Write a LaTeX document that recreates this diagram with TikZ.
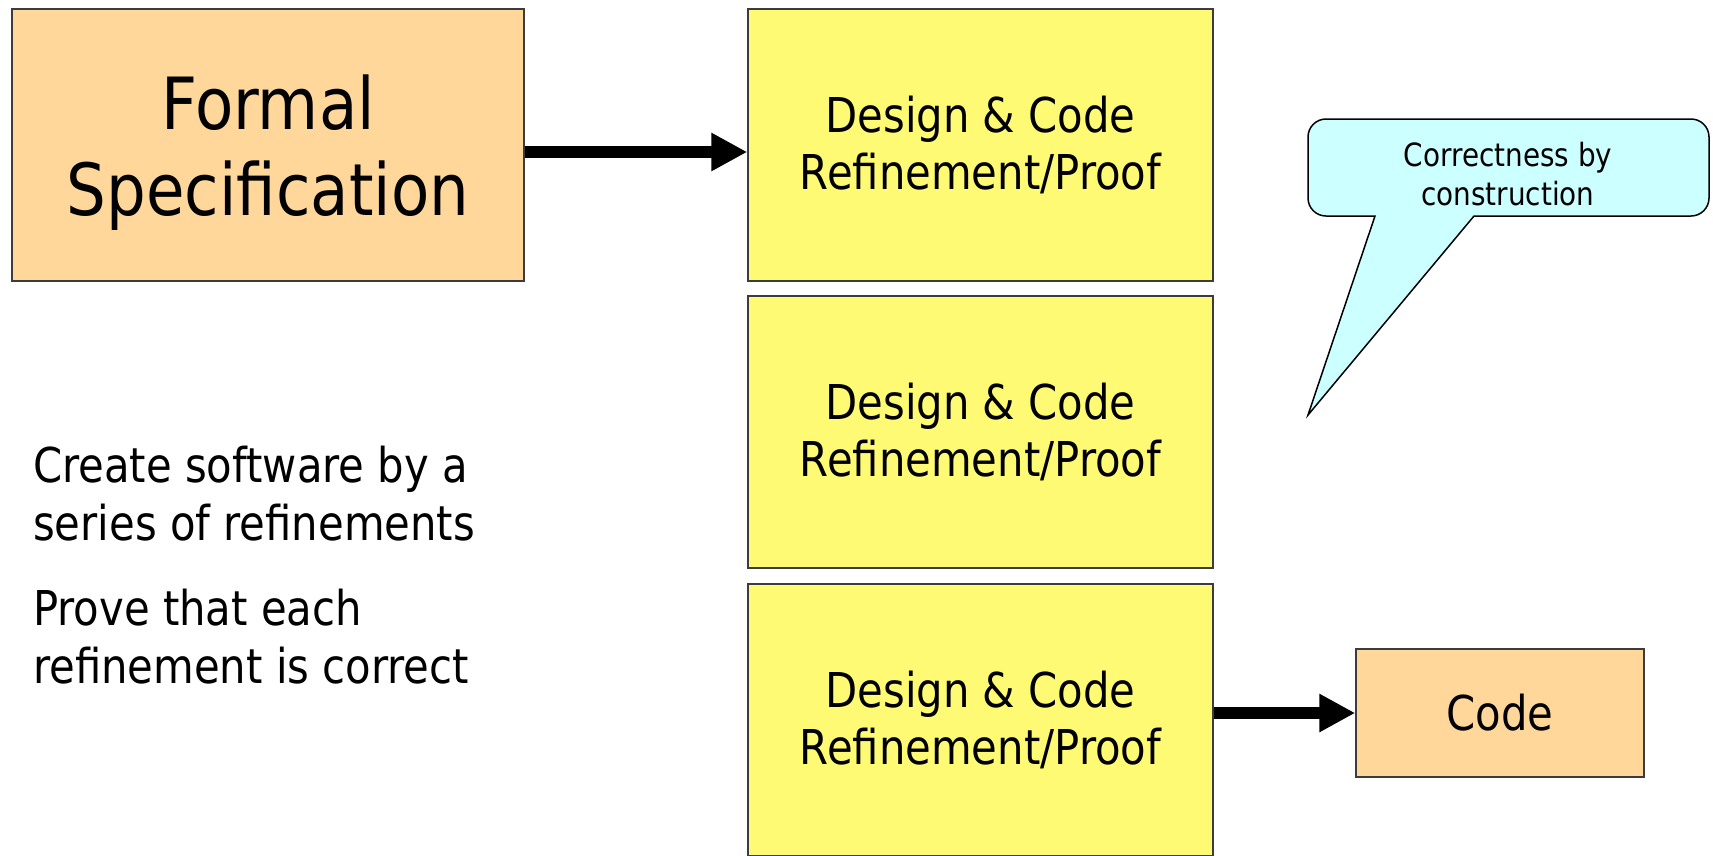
\documentclass[tikz,border=0pt]{standalone}
\usepackage{fontspec}
\setmainfont{DejaVu Sans}[FakeStretch=0.87]
\usetikzlibrary{arrows.meta}

\definecolor{peach}{RGB}{255,215,155}
\definecolor{lemon}{RGB}{255,250,115}
\definecolor{icecyan}{RGB}{204,255,255}
\definecolor{edge}{RGB}{60,60,60}

\tikzset{
  box/.style={draw=edge, line width=1.5pt, align=center, inner sep=0pt},
  specbox/.style={box, fill=peach, minimum width=512pt, minimum height=272pt},
  spectext/.style={align=center, inner sep=0pt,
    font=\fontsize{72pt}{86pt}\selectfont},
  refbox/.style={box, fill=lemon, minimum width=465pt, minimum height=272pt,
    font=\fontsize{48pt}{57.6pt}\selectfont},
  codebox/.style={box, fill=peach, minimum width=288pt, minimum height=128pt,
    font=\fontsize{48pt}{57.6pt}\selectfont},
  bigarrow/.style={line width=12pt, -{Triangle[length=36pt,width=36pt]}},
  bodytext/.style={align=left, inner sep=0pt, anchor=base west,
    font=\fontsize{48pt}{57.6pt}\selectfont},
  bubble/.style={draw=black, line width=1.5pt, fill=icecyan},
}

\begin{document}
\begin{tikzpicture}[x=1pt, y=-1pt]
  \useasboundingbox (0,0) rectangle (1713,855);
  \clip (0,0) rectangle (1713,855);
  \fill[white] (0,0) rectangle (1713,855);

  % Specification and refinement chain
  \node[specbox] (spec) at (268,145) {};
  \node[spectext] (spectxt) at ([yshift=-8pt]spec.center) {Formal\\Specification};
  \node[refbox] (ref1) at (980.5,145) {Design \& Code\\Refinement/Proof};
  \node[refbox] (ref2) at (980.5,432) {Design \& Code\\Refinement/Proof};
  \node[refbox] (ref3) at (980.5,720) {Design \& Code\\Refinement/Proof};
  \node[codebox] (code) at (1500,713) {Code};

  \draw[bigarrow] ([yshift=-7pt]spec.east) -- ([yshift=-7pt]ref1.west);
  \draw[bigarrow] (ref3.east |- code.west) -- (code.west);

  % Explanatory text (anchored on the baseline of the last line)
  \node[bodytext] (txt1) at (33,540) {Create software by a\\series of refinements};
  \node[bodytext] (txt2) at (33,683) {Prove that each\\refinement is correct};

  % Speech bubble
  \coordinate (tip) at (1308,415);
  \draw[bubble] (1375,216) -- (tip) -- (1474,216)
    [rounded corners=18pt] -- (1709,216) -- (1709,119) -- (1308,119) -- (1308,216)
    [sharp corners] -- cycle;
  \node[align=center, inner sep=0pt, font=\fontsize{32pt}{38.4pt}\selectfont]
    (note) at (1508,174) {Correctness by\\construction};
\end{tikzpicture}
\end{document}
